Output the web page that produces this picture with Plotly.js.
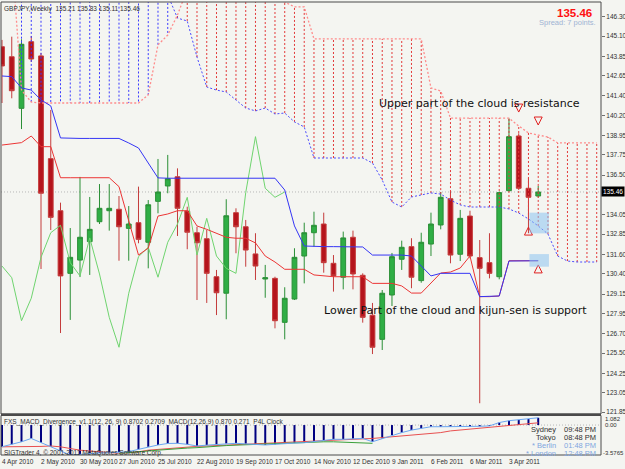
<!DOCTYPE html>
<html><head><meta charset="utf-8">
<script src="https://cdn.plot.ly/plotly-3.0.1.min.js"></script>
<style>html,body{margin:0;padding:0;background:#F4F5F1;}#chart{width:625px;height:469px;}</style>
</head><body><div id="chart"></div>
<script>
// ---- weekly GBPJPY data (bar index 0 = week of 4 Apr 2010) ----
const dateLabels = ['4 Apr 2010','2 May 2010','30 May 2010','27 Jun 2010','25 Jul 2010','22 Aug 2010','19 Sep 2010','17 Oct 2010','14 Nov 2010','12 Dec 2010','9 Jan 2011','6 Feb 2011','6 Mar 2011','3 Apr 2011'];
const openP  = [144.44,143.82,140.63,144.75,143.87,137.52,134.30,130.43,131.25,132.39,133.62,134.30,134.39,133.21,133.56,132.35,134.88,135.83,136.40,134.28,132.94,132.57,130.22,129.20,134.18,133.31,131.63,130.08,130.12,127.40,128.84,131.50,132.94,133.48,131.05,130.19,132.66,130.31,127.84,126.35,129.09,131.30,132.08,129.98,132.24,133.42,135.04,131.61,133.97,131.40,131.09,130.22,135.54,138.92,135.69,135.21];
const highP  = [144.86,145.06,144.90,145.10,144.05,140.53,134.80,133.23,136.39,135.15,135.95,135.95,135.21,134.59,135.79,134.96,137.50,137.75,136.92,134.55,133.31,133.11,130.64,135.01,134.45,133.73,132.91,130.95,130.22,129.57,131.98,133.56,134.24,134.18,131.56,133.01,133.07,130.43,128.60,129.40,131.69,132.45,132.60,132.94,134.18,135.46,135.46,134.35,134.30,132.49,132.91,135.48,140.01,139.09,136.32,135.83];
const lowP   = [140.96,141.25,139.35,143.50,130.70,133.11,126.74,127.55,130.20,130.33,133.48,133.07,131.21,131.21,132.29,130.74,134.14,135.38,132.74,131.92,128.78,128.60,127.85,127.59,131.67,130.84,130.02,128.92,127.03,126.35,128.78,129.81,132.08,130.47,129.30,129.44,129.44,127.38,125.44,125.69,128.41,130.64,129.51,129.85,131.50,133.15,131.05,131.19,131.36,122.40,130.12,130.06,135.48,135.58,132.91,135.11];
const closeP = [143.25,141.72,144.59,143.68,135.38,133.89,130.27,131.42,132.66,133.15,134.45,134.45,133.31,133.48,132.53,134.67,135.46,136.28,134.45,132.97,132.32,130.43,129.23,133.99,133.31,131.87,130.88,130.16,127.50,128.89,131.42,132.94,133.40,131.09,130.27,132.62,130.39,127.71,125.86,129.20,131.46,132.04,130.19,132.35,133.48,135.13,131.56,133.83,131.50,130.74,130.43,135.42,138.88,135.69,135.13,135.46];
// Ichimoku
const tenkan = [138.36,138.43,138.51,138.92,138.26,138.26,136.34,136.34,136.34,136.34,136.34,136.34,135.79,133.73,131.56,131.99,133.97,134.10,134.30,134.30,133.36,133.15,132.92,132.66,132.60,132.60,132.31,131.50,131.13,130.68,130.68,130.68,130.33,130.27,130.22,130.22,130.22,130.22,129.81,129.81,129.81,129.65,129.21,129.21,129.83,130.45,130.51,130.76,131.50,128.99,128.99,129.03,131.21,131.21,131.21,131.21];
const kijun = [142.63,142.59,141.89,141.76,141.15,140.78,138.80,138.77,138.77,138.77,138.77,138.77,138.77,138.49,138.18,137.25,136.33,136.31,136.31,136.31,136.31,136.31,136.31,136.31,136.31,136.31,136.31,136.31,136.31,135.58,133.36,132.12,132.08,132.08,132.08,132.08,132.08,132.06,131.56,131.56,131.56,131.56,131.50,130.88,130.27,130.43,130.43,130.43,130.43,128.99,128.99,129.03,131.19,131.21,131.21,131.21];
const chikou = [130.88,130.16,127.50,128.89,131.42,132.94,133.40,131.09,130.27,132.62,130.39,127.71,125.86,129.20,131.46,132.04,130.19,132.35,133.48,135.13,131.56,133.83,131.50,130.74,130.43,135.42,138.88,135.69,135.13,135.46];
const senkouA = [151.0,151.0,150.5,150.3,150.0,149.8,149.6,149.4,149.2,149.0,148.8,148.6,148.4,148.2,148.1,148.0,147.9,147.64,146.21,146.03,143.80,141.95,141.76,141.64,141.15,140.65,140.47,140.65,140.28,140.34,139.79,139.48,137.56,137.56,137.56,137.56,137.56,137.56,137.25,136.20,134.84,134.53,135.15,135.27,135.40,135.33,134.96,134.66,134.53,134.53,134.53,134.53,134.41,134.16,133.79,133.36,132.86,131.50,131.19,131.13,131.13,131.13];
const senkouB = [150.3,150.1,141.76,141.02,140.96,140.96,140.96,140.96,140.96,140.96,140.96,140.96,140.96,140.96,140.96,141.46,144.55,145.16,146.40,148.0,148.0,148.0,148.0,148.0,148.0,148.0,148.0,148.0,147.6,147.20,146.90,146.90,144.92,144.92,144.92,144.92,144.92,144.92,144.92,144.92,144.92,144.92,144.92,144.92,141.89,141.70,140.03,140.03,140.03,140.03,140.03,140.03,140.03,139.54,139.11,138.98,138.86,138.49,138.49,138.49,138.49,138.49];
// MACD(12,26,9)
const macdMain = [-2.59,-2.3,-2.0,-1.6,-2.1,-2.6,-3.1,-3.58,-3.5,-3.4,-3.34,-3.3,-3.25,-3.18,-2.9,-2.6,-2.38,-2.2,-2.18,-2.3,-2.5,-2.4,-2.3,-2.2,-2.18,-2.25,-2.35,-2.38,-2.3,-2.2,-2.15,-2.11,-2.0,-1.8,-1.7,-1.7,-1.65,-1.6,-1.99,-1.6,-1.2,-0.9,-0.6,-0.4,-0.2,-0.2,-0.2,-0.2,-0.2,-0.15,-0.1,0.3,0.52,0.62,0.72,0.87];
const macdSignal = [-2.6,-2.6,-2.6,-2.55,-2.55,-2.5,-2.6,-2.8,-3.0,-3.1,-3.2,-3.3,-3.37,-3.3,-3.2,-3.0,-2.9,-2.8,-2.7,-2.6,-2.55,-2.5,-2.45,-2.4,-2.38,-2.3,-2.25,-2.2,-2.15,-2.1,-2.0,-1.95,-1.9,-1.85,-1.8,-1.75,-1.7,-1.65,-1.6,-1.5,-1.4,-1.3,-1.2,-1.1,-1.0,-0.9,-0.7,-0.6,-0.45,-0.39,-0.3,-0.2,-0.1,0.0,0.15,0.27];
const macdGreenStart = 12;
const macdGreen = [-3.37,-3.3,-3.2,-3.1,-3.0,-2.9,-2.85,-2.75,-2.7,-2.6,-2.5,-2.45,-2.4,-2.35,-2.3,-2.25,-2.2,-2.15,-2.1,-2.05,-2.0,-2.0,-2.0,-2.05,-2.1,-2.15,-2.18];
// price axis labels (the one under the price box is covered)
const priceTicks = [146.30,145.10,143.85,142.65,141.40,140.20,138.95,137.75,136.50,134.05,132.85,131.60,130.40,129.15,127.95,126.70,125.50,124.25,123.05,121.85];
const lastPrice = 135.46;
// drawn objects
const downArrowBar = [53,55], downArrowPrice = [140.40,139.60];
const upArrowBar = [54,55], upArrowPrice = [133.29,130.95];
const zoneBars = [[54.1,56.1],[54.1,56.1]], zonePrices = [[132.90,134.18],[130.84,131.62]];

const idx = openP.map((_, i) => i);
const cloudIdx = senkouA.map((_, i) => i);

// cloud hatch
const hr = {x: [], y: []}, hb = {x: [], y: []};
cloudIdx.forEach(i => {
  const t = senkouB[i] >= senkouA[i] ? hr : hb;
  t.x.push(i, i, null); t.y.push(senkouA[i], senkouB[i], null);
});

const traces = [
  {type:'scatter', mode:'lines', x:hr.x, y:hr.y, line:{color:'#e23a3a', width:1, dash:'2px,2px'}, hoverinfo:'skip'},
  {type:'scatter', mode:'lines', x:hb.x, y:hb.y, line:{color:'#3a3aff', width:1, dash:'2px,2px'}, hoverinfo:'skip'},
  {type:'scatter', mode:'lines', x:cloudIdx, y:senkouA, line:{color:'#4a4aff', width:1, dash:'2px,2px'}, hoverinfo:'skip'},
  {type:'scatter', mode:'lines', x:cloudIdx, y:senkouB, line:{color:'#ff8c8c', width:1.3, dash:'2px,2px'}, hoverinfo:'skip'},
  {type:'candlestick', x:idx, open:openP, high:highP, low:lowP, close:closeP,
   increasing:{line:{color:'#2a8f36', width:1}, fillcolor:'#2fae45'},
   decreasing:{line:{color:'#c43c3c', width:1}, fillcolor:'#b5141c'}, hoverinfo:'skip', whiskerwidth:0},
  {type:'scatter', mode:'lines', x:idx.slice(0, chikou.length), y:chikou, line:{color:'#6fd46f', width:1}, hoverinfo:'skip'},
  {type:'scatter', mode:'lines', x:idx, y:tenkan, line:{color:'#ec3535', width:1}, hoverinfo:'skip'},
  {type:'scatter', mode:'lines', x:idx, y:kijun, line:{color:'#3535f5', width:1}, hoverinfo:'skip'},
  {type:'scatter', mode:'markers', x:downArrowBar, y:downArrowPrice, marker:{symbol:'arrow-down-open', size:8, color:'#e02020', line:{color:'#e02020', width:1}}, hoverinfo:'skip'},
  {type:'scatter', mode:'markers', x:upArrowBar, y:upArrowPrice, marker:{symbol:'arrow-up-open', size:8, color:'#e02020', line:{color:'#e02020', width:1}}, hoverinfo:'skip'},
  // MACD panel
  (() => { const x=[], y=[]; macdMain.forEach((v,i)=>{x.push(i,i,null); y.push(0,v,null);}); 
     return {type:'scatter', mode:'lines', x, y, yaxis:'y2', line:{color:'#000080', width:2}, hoverinfo:'skip'}; })(),
  {type:'scatter', mode:'lines', x:idx, y:macdSignal, yaxis:'y2', line:{color:'#e85050', width:1}, hoverinfo:'skip'},
  {type:'scatter', mode:'lines', x:macdGreen.map((_,k)=>k+macdGreenStart), y:macdGreen, yaxis:'y2', line:{color:'#3aa03a', width:1}, hoverinfo:'skip'},
  {type:'scatter', mode:'lines', x:idx, y:macdMain, yaxis:'y2', line:{color:'#6aa6f2', width:1}, hoverinfo:'skip'}
];

const PT = 2, PB = 455, H = 469;
const py = px => (PB - px) / (PB - PT); // pixel row -> paper y
const small = {family:'Liberation Sans, Arial, sans-serif', size:6.5, color:'#303030'};
const tiny = {family:'Liberation Sans, Arial, sans-serif', size:6, color:'#303030'};

const annotations = [];
dateLabels.forEach((t, k) => annotations.push({x:k*4, xref:'x', y:0, yref:'paper', yanchor:'top', xanchor:'left', xshift:-2, yshift:-1, text:t, showarrow:false, font:small}));
annotations.push(
  {x:0, xref:'paper', y:1, yref:'paper', xanchor:'left', yanchor:'top', xshift:1, yshift:-1, showarrow:false, text:'GBPJPY,Weekly  135.21 135.83 135.11 135.46', font:small},
  {x:1, xref:'paper', y:py(13), yref:'paper', xanchor:'right', yanchor:'middle', xshift:-7, showarrow:false, text:'<b>135.46</b>', font:{family:'Liberation Sans, Arial', size:11.5, color:'#ff1010'}},
  {x:1, xref:'paper', y:py(22.5), yref:'paper', xanchor:'right', yanchor:'middle', xshift:-3, showarrow:false, text:'Spread: 7 points.', font:{family:'Liberation Sans, Arial', size:7.5, color:'#9fb4d4'}},
  {x:1, xref:'paper', y:lastPrice, yref:'y', xanchor:'left', yanchor:'middle', xshift:0, showarrow:false, text:'135.46', bgcolor:'#000000', borderpad:1, font:{family:'Liberation Sans, Arial', size:6.5, color:'#ffffff'}},
  {x:0, xref:'paper', y:py(103.5), yref:'paper', xanchor:'left', yanchor:'middle', xshift:376, showarrow:false, text:'Upper part of the cloud is resistance', font:{family:'DejaVu Sans', size:11, color:'#101010'}},
  {x:0, xref:'paper', y:py(310.5), yref:'paper', xanchor:'left', yanchor:'middle', xshift:321, showarrow:false, text:'Lower Part of the cloud and kijun-sen is support', font:{family:'DejaVu Sans', size:11, color:'#101010'}},
  {x:0, xref:'paper', y:py(421.7), yref:'paper', xanchor:'left', yanchor:'middle', xshift:1, showarrow:false, text:'FXS_MACD_Divergence_v1.1(12, 26, 9) 0.8702 0.2709  MACD(12,26,9) 0.870 0.271  P4L Clock', font:small},
  {x:0, xref:'paper', y:py(452.5), yref:'paper', xanchor:'left', yanchor:'middle', xshift:1, showarrow:false, text:'SIGTrader 4, © 2001-2011 MetaQuotes Software Corp.', font:small},
  {x:1, xref:'paper', y:py(418.6), yref:'paper', xanchor:'left', yanchor:'middle', xshift:2, showarrow:false, text:'1.082', font:tiny},
  {x:1, xref:'paper', y:py(425.2), yref:'paper', xanchor:'left', yanchor:'middle', xshift:2, showarrow:false, text:'0.00', font:tiny},
  {x:1, xref:'paper', y:py(452.8), yref:'paper', xanchor:'left', yanchor:'middle', xshift:0, showarrow:false, text:'-3.5765', font:tiny}
);
const clock = [['Sydney','09:48 PM','#303030',429.3],['Tokyo','08:48 PM','#303030',437.3],['* Berlin','01:48 PM','#7fa6e0',445.2],['* London','12:48 PM','#7fa6e0',453.0]];
clock.forEach(c => {
  annotations.push({x:1, xref:'paper', y:py(c[3]), yref:'paper', xanchor:'right', yanchor:'middle', xshift:-43, showarrow:false, text:c[0], font:{family:'Liberation Sans, Arial', size:7.5, color:c[2]}});
  annotations.push({x:1, xref:'paper', y:py(c[3]), yref:'paper', xanchor:'right', yanchor:'middle', xshift:-3, showarrow:false, text:c[1], font:{family:'Liberation Sans, Arial', size:7.5, color:c[2]}});
});

const shapes = [
  {type:'line', xref:'paper', x0:0, x1:1, yref:'y', y0:lastPrice, y1:lastPrice, line:{color:'#b8b8b8', width:1, dash:'1px,2px'}, layer:'below'},
  {type:'line', xref:'paper', x0:0, x1:1, yref:'y2', y0:0, y1:0, line:{color:'#b8b8b8', width:1, dash:'1px,2px'}, layer:'below'},
  ...zoneBars.map((b, k) => ({type:'rect', xref:'x', yref:'y', x0:b[0], x1:b[1], y0:zonePrices[k][0], y1:zonePrices[k][1], fillcolor:'rgba(140,195,240,0.55)', line:{width:0}, layer:'above'})),
  {type:'rect', xref:'paper', yref:'paper', x0:0, x1:1, y0:py(414), y1:1, line:{color:'#4a4a4a', width:1}, fillcolor:'rgba(0,0,0,0)'},
  {type:'rect', xref:'paper', yref:'paper', x0:0, x1:1, y0:0, y1:py(415.5), line:{color:'#4a4a4a', width:1}, fillcolor:'rgba(0,0,0,0)'},
  {type:'line', xref:'paper', yref:'paper', x0:0, x1:1, y0:py(414.5), y1:py(414.5), line:{color:'#4a4a4a', width:2}}
];

const layout = {
  width:625, height:H, autosize:false,
  margin:{l:1, r:24, t:PT, b:H-PB, pad:0},
  paper_bgcolor:'#F4F5F1', plot_bgcolor:'#F4F5F1',
  showlegend:false,
  xaxis:{range:[-0.1026, 61.44], showgrid:false, zeroline:false, showticklabels:false, ticks:'', showline:false, rangeslider:{visible:false}, fixedrange:true, anchor:'y2'},
  yaxis:{domain:[py(414), 1], range:[121.734, 147.204], side:'right', tickvals:priceTicks, ticktext:priceTicks.map(v=>v.toFixed(2)), tickfont:small, ticks:'outside', ticklen:3, tickcolor:'#707070', showgrid:false, zeroline:false, showline:false, fixedrange:true},
  yaxis2:{domain:[0, py(416)], range:[-3.5765, 1.082], showticklabels:false, ticks:'', showgrid:false, zeroline:false, showline:false, fixedrange:true},
  annotations, shapes
};

Plotly.newPlot('chart', traces, layout, {staticPlot:true, displayModeBar:false});
</script></body></html>
